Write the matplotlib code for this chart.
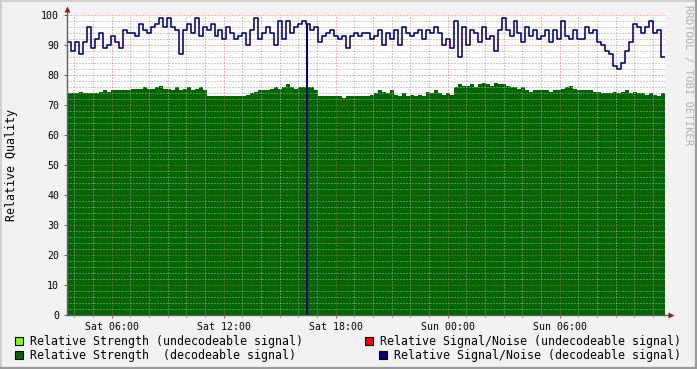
import matplotlib
matplotlib.use('Agg')
import matplotlib.pyplot as plt
from matplotlib.patches import Rectangle
from matplotlib.lines import Line2D
from matplotlib.ticker import MultipleLocator
import numpy as np

# ---------------- data ----------------
start_hour = 3.6          # hours since Sat 00:00
step_hours = 0.2136       # sample spacing

strength_decoded = [
    74, 74, 74, 74.5, 74, 74, 74, 74, 74.5,
    75, 74.5, 75, 75, 75, 75, 75, 75.5,
    75.5, 75.5, 76, 75.5, 75.5, 76, 76.5, 75.5,
    75.5, 75, 76, 75, 75.5, 76, 75, 75.5, 76, 75,
    73, 73, 73, 73, 73, 73, 73, 73, 73, 73, 73.5, 74, 74.5, 75, 75,
    75, 75.5, 76, 75.5, 76, 77, 76, 75.5, 76, 76, 76, 76, 75,
    73, 73, 73, 73, 73, 73, 72.5, 73, 73, 73, 73, 73,
    73, 73.5, 74, 75, 74.5, 74, 75, 73.5, 73, 74, 73, 73.5, 73, 73.5, 73,
    74.5, 74, 75, 74, 73.5, 74, 73.5, 76, 77, 76.5,
    76.5, 77, 76, 77, 77.5, 77, 76.5, 77.5, 77, 77, 76.5, 76, 76, 75.5, 76,
    75, 74.5, 75, 75, 75, 75, 74.5, 75, 75, 75.5,
    76, 76.5, 75.5, 75, 75, 75, 75, 74.5, 74.5, 74, 74, 74, 74.5, 74, 74.5,
    75, 74, 74.5, 74, 74, 73.5, 74, 73.5, 73, 74,
]

snr_decoded = [
    91, 88, 91, 87, 91, 96, 89, 92, 94, 89, 90, 93, 91, 89, 95, 94, 94, 93, 97, 95, 94, 96, 97, 99, 96,
    99, 96, 95, 87, 95, 97, 94, 99, 93, 96, 95, 97, 93, 95, 92, 96, 94, 92, 93, 94, 90, 95, 99, 92, 94,
    96, 94, 90, 98, 92, 98, 94, 96, 97, 98, 97, 95, 96, 91, 93, 94, 95, 93, 92, 93, 89, 93, 94, 93, 94,
    94, 92, 93, 95, 90, 94, 92, 95, 90, 96, 94, 93, 94, 95, 92, 95, 94, 96, 94, 90, 92, 89, 98, 86, 96,
    90, 95, 94, 91, 96, 92, 93, 88, 95, 99, 95, 93, 98, 94, 91, 96, 93, 95, 92, 93, 95, 91, 95, 92, 98,
    93, 92, 95, 92, 92, 96, 94, 95, 91, 90, 88, 87, 83, 82, 84, 88, 91, 97, 96, 94, 96, 98, 94, 95, 86,
]

snr_dropout_hours = [16.45]   # instant where S/N fell to 0

tick_hours = [6, 12, 18, 24, 30]
tick_labels = ['Sat 06:00', 'Sat 12:00', 'Sat 18:00', 'Sun 00:00', 'Sun 06:00']
y_label = 'Relative Quality'
legend_labels = [
    'Relative Strength (undecodeable signal)',
    'Relative Signal/Noise (undecodeable signal)',
    'Relative Strength  (decodeable signal)',
    'Relative Signal/Noise (decodeable signal)',
]
legend_colors = ['#80ff00', '#ff0000', '#006600', '#000080']
watermark = 'RRDTOOL / TOBI OETIKER'

# ---------------- figure ----------------
W, H = 697, 369
fig = plt.figure(figsize=(W / 100, H / 100), dpi=100)
fig.patch.set_facecolor('#f2f2f2')

L, R, T, B = 67, 665, 15, 315
ax = fig.add_axes([L / W, (H - B) / H, (R - L) / W, (B - T) / H])
ax.set_facecolor('white')

n = len(snr_decoded)
t = start_hour + step_hours * np.arange(n + 1)
g = np.append(strength_decoded, strength_decoded[-1])
s = np.append(snr_decoded, snr_decoded[-1])

ax.fill_between(t, 0, g, step='post', color='#006600', lw=0, zorder=1)
ax.step(t, s, where='post', color='#000080', lw=1.15, zorder=4)
for d in snr_dropout_hours:
    idx = int((d - start_hour) / step_hours)
    ax.vlines(d, 0, snr_decoded[idx], color='#000080', lw=1.5, zorder=4)

ax.set_xlim(t[0], t[-1])
ax.set_ylim(0, 100)

ax.xaxis.set_major_locator(MultipleLocator(6))
ax.xaxis.set_minor_locator(MultipleLocator(1))
ax.set_xticks(tick_hours)
ax.set_xticklabels(tick_labels)
ax.yaxis.set_major_locator(MultipleLocator(10))
ax.yaxis.set_minor_locator(MultipleLocator(2))

ax.set_axisbelow(False)
ax.grid(which='minor', color='#a8a8a8', alpha=0.55, lw=0.75, ls=(0, (1, 1)),
        zorder=3, antialiased=False)
ax.grid(which='major', color='#ff5050', alpha=0.45, lw=0.75, ls=(0, (1, 1)),
        zorder=3, antialiased=False)

for sp in ax.spines.values():
    sp.set_visible(False)

mono = 'DejaVu Sans Mono'
ax.tick_params(axis='y', which='major', length=2.2, width=0.72, color='#606060',
               pad=3.5, labelsize=7.1)
ax.tick_params(axis='y', which='minor', length=0)
ax.tick_params(axis='x', which='major', length=2.0, width=0.72, color='#c06060',
               pad=3.0, labelsize=7.1)
ax.tick_params(axis='x', which='minor', length=2.0, width=0.72, color='#b0b0b0')
for lab in ax.get_xticklabels() + ax.get_yticklabels():
    lab.set_fontfamily(mono)

# axis lines with arrows
axcol = '#606060'
ax.add_line(Line2D([0, 1 + 5 / (R - L)], [0, 0], transform=ax.transAxes,
                   color=axcol, lw=1.0, clip_on=False, zorder=5))
ax.add_line(Line2D([0, 0], [0, 1 + 5 / (B - T)], transform=ax.transAxes,
                   color=axcol, lw=1.0, clip_on=False, zorder=5))
ax.plot([1 + 6 / (R - L)], [0], marker='>', ms=4.5, color='#8b2020',
        transform=ax.transAxes, clip_on=False, zorder=6, mec='none')
ax.plot([0], [1 + 6 / (B - T)], marker='^', ms=4.5, color='#8b2020',
        transform=ax.transAxes, clip_on=False, zorder=6, mec='none')

ax.set_ylabel(y_label, fontfamily=mono, fontsize=8.4)
ax.yaxis.label.set_va('center')
ax.yaxis.label.set_ha('center')
ax.yaxis.set_label_coords(-(67 - 12) / (R - L), 0.5)

# watermark
fig.text(688 / W, 1 - 5 / H, watermark, rotation=-90, fontfamily=mono,
         fontsize=7.6, color='#b0b0b0', ha='center', va='top')

# legend
sq = 8
rows_y = [340.5, 354.5]
entries = [
    (15, 30, rows_y[0], 0),
    (365, 380, rows_y[0], 1),
    (15, 30, rows_y[1], 2),
    (379, 394, rows_y[1], 3),
]
for sx, tx, cy, k in entries:
    fig.add_artist(Rectangle((sx / W, 1 - (cy + sq / 2) / H), sq / W, sq / H,
                             transform=fig.transFigure, facecolor=legend_colors[k],
                             edgecolor='black', lw=0.8))
    fig.text(tx / W, 1 - cy / H, legend_labels[k], fontfamily=mono, fontsize=8.42,
             ha='left', va='center_baseline', color='black')

# frame shading
fig.add_artist(Line2D([0, 1], [1 - 0.5 / H, 1 - 0.5 / H], transform=fig.transFigure,
                      color='#d0d0d0', lw=1.4))
fig.add_artist(Line2D([0.5 / W, 0.5 / W], [0, 1], transform=fig.transFigure,
                      color='#d0d0d0', lw=1.4))
fig.add_artist(Line2D([1 - 1 / W, 1 - 1 / W], [0, 1], transform=fig.transFigure,
                      color='#9a9a9a', lw=1.6))
fig.add_artist(Line2D([0, 1], [1 / H, 1 / H], transform=fig.transFigure,
                      color='#9a9a9a', lw=1.6))

fig.savefig('out.png', dpi=100, facecolor=fig.get_facecolor())
